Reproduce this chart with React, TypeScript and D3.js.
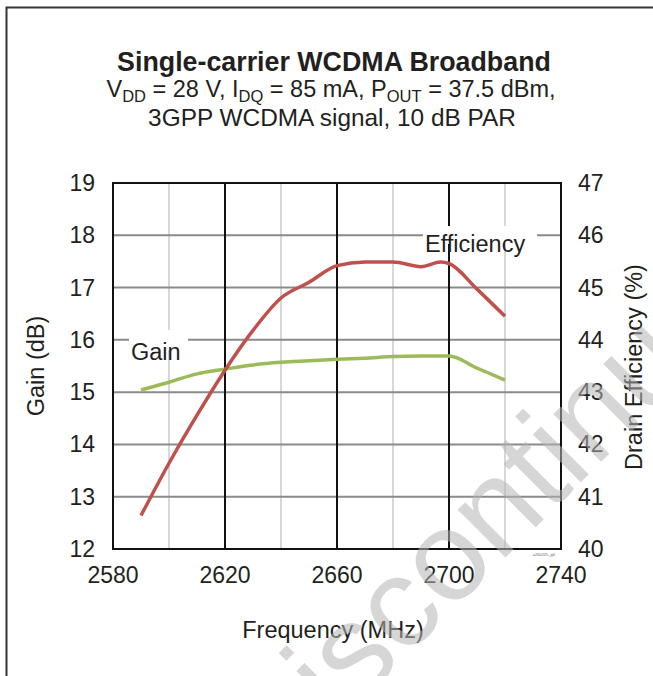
import React from "react";
import * as d3 from "d3";

const freqTicks = [2580, 2620, 2660, 2700, 2740];
const minorFreq = [2600, 2640, 2680, 2720];
const gainTicks = [12, 13, 14, 15, 16, 17, 18, 19];
const effTicks = [40, 41, 42, 43, 44, 45, 46, 47];

const gainFreq = [2590, 2600, 2610, 2620, 2630, 2640, 2650, 2660, 2670, 2680, 2690, 2700, 2710, 2720];
const gainValues = [15.04, 15.19, 15.35, 15.44, 15.52, 15.57, 15.6, 15.63, 15.65, 15.68, 15.69, 15.69, 15.46, 15.23];

const effFreq = [2590, 2600, 2610, 2620, 2630, 2640, 2650, 2660, 2670, 2680, 2690, 2697, 2700, 2710, 2720];
const effValues = [40.64, 41.64, 42.56, 43.42, 44.18, 44.8, 45.1, 45.42, 45.49, 45.49, 45.4, 45.49, 45.46, 44.97, 44.45];

const FONT = "'Liberation Sans', Arial, Helvetica, sans-serif";

export default function App() {
  const left = 113, right = 561, top = 183, bottom = 549;
  const x = d3.scaleLinear().domain([2580, 2740]).range([left, right]);
  const yG = d3.scaleLinear().domain([12, 19]).range([bottom, top]);
  const yE = d3.scaleLinear().domain([40, 47]).range([bottom, top]);

  const gainLine = d3
    .line<number>()
    .x((_, i) => x(gainFreq[i]))
    .y((d) => yG(d))
    .curve(d3.curveMonotoneX);
  const effLine = d3
    .line<number>()
    .x((_, i) => x(effFreq[i]))
    .y((d) => yE(d))
    .curve(d3.curveMonotoneX);

  return (
    <svg
      width={653}
      height={676}
      style={{ position: "absolute", left: 0, top: 0, background: "#fff" }}
      fontFamily={FONT}
    >
      <rect x={6.5} y={7.5} width={700} height={700} fill="#fff" stroke="#333" strokeWidth={2} />

      {/* Title */}
      <text x={334} y={71} textAnchor="middle" fontSize={26.8} fontWeight="bold" fill="#231f20">
        Single-carrier WCDMA Broadband
      </text>
      <text x={331} y={97} textAnchor="middle" fontSize={23.5} fill="#231f20">
        V<tspan fontSize={16.5} dy={5}>DD</tspan>
        <tspan dy={-5}> = 28 V, I</tspan>
        <tspan fontSize={16.5} dy={5}>DQ</tspan>
        <tspan dy={-5}> = 85 mA, P</tspan>
        <tspan fontSize={16.5} dy={5}>OUT</tspan>
        <tspan dy={-5}> = 37.5 dBm,</tspan>
      </text>
      <text x={332} y={126} textAnchor="middle" fontSize={24.4} fill="#231f20">
        3GPP WCDMA signal, 10 dB PAR
      </text>

      {/* minor vertical grid */}
      {minorFreq.map((f) => (
        <line key={"m" + f} x1={x(f)} x2={x(f)} y1={top} y2={bottom} stroke="#bdbdbd" strokeWidth={1.2} />
      ))}
      {/* horizontal grid */}
      {gainTicks.slice(1, -1).map((g) => (
        <line key={"h" + g} x1={left} x2={right} y1={yG(g)} y2={yG(g)} stroke="#8a8a8a" strokeWidth={2} />
      ))}
      {/* major vertical grid */}
      {freqTicks.slice(1, -1).map((f) => (
        <line key={"v" + f} x1={x(f)} x2={x(f)} y1={top} y2={bottom} stroke="#111" strokeWidth={2} />
      ))}
      <rect x={left} y={top} width={right - left} height={bottom - top} fill="none" stroke="#111" strokeWidth={2} />

      {/* label backgrounds */}
      <rect x={129} y={330} width={59} height={20} fill="#fff" />
      <rect x={423} y={226} width={114} height={18} fill="#fff" />

      {/* series */}
      <path d={gainLine(gainValues) || ""} fill="none" stroke="#9bbb59" strokeWidth={3.5} />
      <path d={effLine(effValues) || ""} fill="none" stroke="#c0504d" strokeWidth={3.5} />

      <text x={131} y={360} fontSize={23.5} fill="#231f20">Gain</text>
      <text x={425} y={252} fontSize={23.5} fill="#231f20">Efficiency</text>

      {/* tick labels */}
      {gainTicks.map((g) => (
        <text key={"gl" + g} x={95} y={yG(g) + 8} textAnchor="end" fontSize={23} fill="#231f20">
          {g}
        </text>
      ))}
      {effTicks.map((e) => (
        <text key={"el" + e} x={578} y={yE(e) + 8} textAnchor="start" fontSize={23} fill="#231f20">
          {e}
        </text>
      ))}
      {freqTicks.map((f) => (
        <text key={"fl" + f} x={x(f)} y={583} textAnchor="middle" fontSize={23} fill="#231f20">
          {f}
        </text>
      ))}

      {/* axis titles */}
      <text x={333} y={638} textAnchor="middle" fontSize={23.5} fill="#231f20">
        Frequency (MHz)
      </text>
      <text transform="translate(44,366) rotate(-90)" textAnchor="middle" fontSize={23.5} fill="#231f20">
        Gain (dB)
      </text>
      <text transform="translate(642,367) rotate(-90)" textAnchor="middle" fontSize={23.5} fill="#231f20">
        Drain Efficiency (%)
      </text>

      <text x={555} y={556} textAnchor="end" fontSize={4} fill="#666">a260225_g6</text>

      {/* watermark */}
      <text
        transform="translate(273,790) rotate(-45)"
        fontSize={128}
        fill="#b4b4b4"
        fillOpacity={0.55}
      >
        Discontinued
      </text>
    </svg>
  );
}
